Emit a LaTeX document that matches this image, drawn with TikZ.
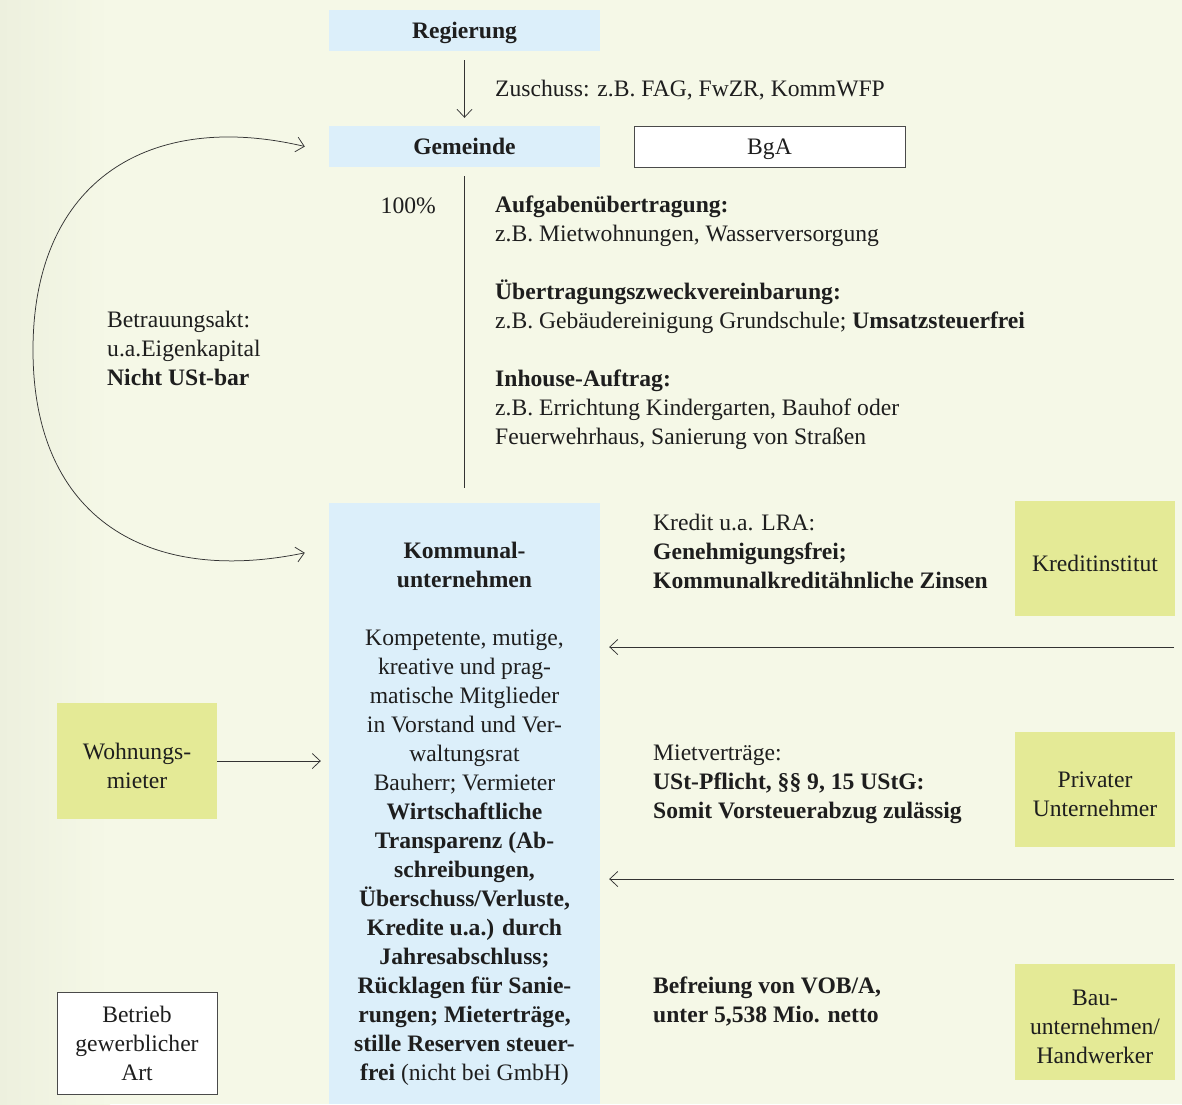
\documentclass[tikz,border=0pt]{standalone}
\usepackage{fontspec}
\setmainfont{Liberation Serif}
\usetikzlibrary{arrows.meta}
\definecolor{bgc}{HTML}{F5F8E7}
\definecolor{bgl}{HTML}{EDF0DE}
\definecolor{bluef}{HTML}{DCEFFA}
\definecolor{yelf}{HTML}{E4EA96}
\definecolor{ink}{HTML}{1E1E1E}
\definecolor{lin}{HTML}{333333}
\definecolor{edge}{HTML}{4A4A4A}
\tikzset{
  txt/.style={inner sep=0pt, text=ink, font=\fontsize{23.6}{29}\selectfont},
  bluebox/.style={fill=bluef, draw=none, minimum width=271pt, minimum height=41pt, inner sep=0pt, text height=16pt, text depth=1pt, text=ink, font=\fontsize{23.6}{29}\selectfont\bfseries},
  whitebox/.style={fill=white, draw=edge, line width=0.8pt, inner sep=0pt, text=ink, align=center, font=\fontsize{23.6}{29}\selectfont},
  yelbox/.style={fill=yelf, draw=none, minimum width=160pt, minimum height=115pt, inner sep=0pt},
  conn/.style={draw=lin, line width=0.75pt},
  arr/.style={conn, -{Straight Barb[length=8pt,width=15pt]}},
}
\begin{document}
\begin{tikzpicture}[x=1pt,y=-1pt]
\fill[bgc] (0,0) rectangle (1182,1104);
\shade[left color=bgl, right color=bgc] (0,0) rectangle (110,1104);
\useasboundingbox (0,0) rectangle (1182,1104);

% central column
\node[bluebox] (reg) at (464.5,30.5) {Regierung};
\node[bluebox] (gem) at (464.5,146.5) {Gemeinde};
\node[whitebox, minimum width=271pt, minimum height=41pt, text height=16pt, text depth=1pt] (bga) at (769.5,146.5) {BgA};
\node[bluebox, minimum height=601pt] (ku) at (464.5,803.5) {};

\draw[arr, shorten <=9pt, shorten >=8pt] (reg.south) -- (gem.north);
\node[txt, anchor=west] (zus) at (495,90) {Zuschuss: z.B. FAG, FwZR, KommWFP};

\draw[conn, shorten <=9pt, shorten >=15pt] (gem.south) -- (ku.north);
\node[txt, anchor=east] (pct) at (436,206) {100\%};

\node[txt, anchor=west, align=left] (aufg) at (495,323) {%
\textbf{Aufgabenübertragung:}\\
z.B. Mietwohnungen, Wasserversorgung\\[29pt]
\textbf{Übertragungszweckvereinbarung:}\\
z.B. Gebäudereinigung Grundschule; \textbf{Umsatzsteuerfrei}\\[29pt]
\textbf{Inhouse-Auftrag:}\\
z.B. Errichtung Kindergarten, Bauhof oder\\
Feuerwehrhaus, Sanierung von Straßen};

% Betrauungsakt arc
\coordinate (atop) at ([xshift=-24pt]gem.west);
\coordinate (abot) at ([shift={(-24pt,-50pt)}]ku.north west);
\draw[conn, {Straight Barb[length=8pt,width=15pt]}-{Straight Barb[length=8pt,width=15pt]}]
  (atop) .. controls (150,110) and (33,180) .. (33,350)
  .. controls (33,520) and (150,585) .. (abot);
\node[txt, anchor=west, align=left] (betr) at (107,348) {%
Betrauungsakt:\\
u.a.Eigenkapital\\
\textbf{Nicht USt-bar}};

% Kommunalunternehmen text
\node[txt, align=center] (kutxt) at (464.5,814) {%
\textbf{Kommunal-}\\
\textbf{unternehmen}\\[29pt]
Kompetente, mutige,\\
kreative und prag-\\
matische Mitglieder\\
in Vorstand und Ver-\\
waltungsrat\\
Bauherr; Vermieter\\
\textbf{Wirtschaftliche}\\
\textbf{Transparenz (Ab-}\\
\textbf{schreibungen,}\\
\textbf{Überschuss/Verluste,}\\
\textbf{Kredite u.a.) durch}\\
\textbf{Jahresabschluss;}\\
\textbf{Rücklagen für Sanie-}\\
\textbf{rungen; Mieterträge,}\\
\textbf{stille Reserven steuer-}\\
\textbf{frei} (nicht bei GmbH)};

% right side
\node[yelbox] (kred) at (1095,558.5) {};
\node[txt] (kredl) at ([yshift=-5pt]kred.center) {Kreditinstitut};
\node[yelbox] (priv) at (1095,789.5) {};
\node[txt, align=center] (privl) at ([yshift=-5pt]priv.center) {Privater\\Unternehmer};
\node[yelbox, minimum height=116pt] (bau) at (1095,1022) {};
\node[txt, align=center] (baul) at ([yshift=-5pt]bau.center) {Bau-\\unternehmen/\\Handwerker};

\node[txt, anchor=west, align=left] (kredtxt) at (653,551) {%
Kredit u.a. LRA:\\
\textbf{Genehmigungsfrei;}\\
\textbf{Kommunalkreditähnliche Zinsen}};
\node[txt, anchor=west, align=left] (miettxt) at (653,784) {%
Mietverträge:\\
\textbf{USt-Pflicht, §§ 9, 15 UStG:}\\
\textbf{Somit Vorsteuerabzug zulässig}};
\node[txt, anchor=west, align=left] (beftxt) at (653,1001) {%
\textbf{Befreiung von VOB/A,}\\
\textbf{unter 5,538 Mio. netto}};

\coordinate (r1) at (1174,647);
\coordinate (r2) at (1174,879);
\draw[arr, shorten >=9pt] (r1) -- (ku.east |- r1);
\draw[arr, shorten >=9pt] (r2) -- (ku.east |- r2);

% left side
\node[yelbox, minimum height=116pt] (wm) at (137,761) {};
\node[txt, align=center] (wml) at ([yshift=-5pt]wm.center) {Wohnungs-\\mieter};
\draw[arr, shorten >=8pt] (wm.east) -- (ku.west |- wm.east);
\node[whitebox, minimum width=160pt, minimum height=102pt] (bga2) at (137,1043) {Betrieb\\gewerblicher\\Art};
\end{tikzpicture}
\end{document}
